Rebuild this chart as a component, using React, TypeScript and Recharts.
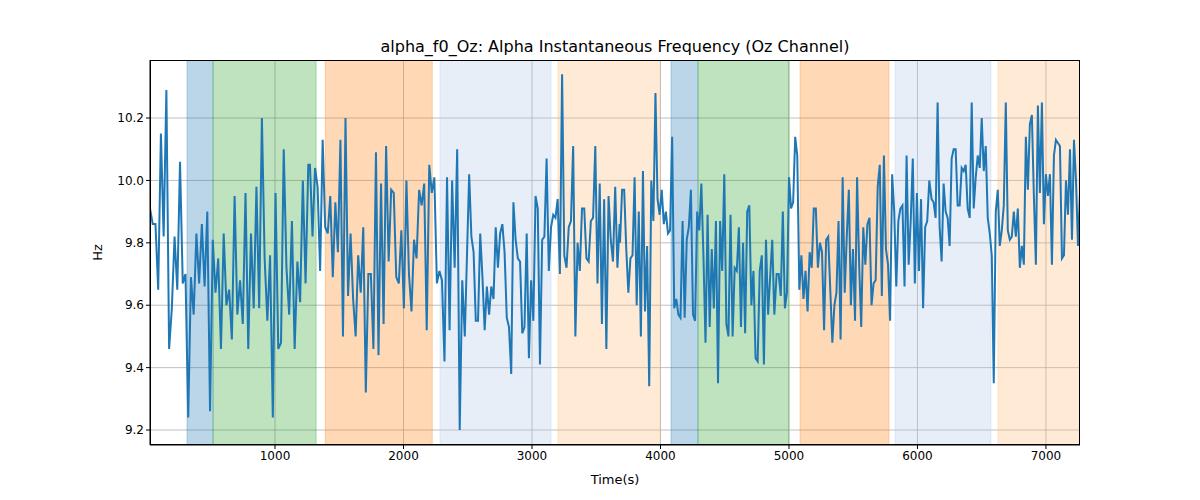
import { LineChart, Line, XAxis, YAxis, CartesianGrid, ReferenceArea } from 'recharts';

// Alpha frequency (Hz) in six stretches of the time axis
const seg1Times = [27, 1259];
const seg1 = [9.91, 9.86, 9.86, 9.65, 10.15, 9.82, 10.29, 9.46, 9.59, 9.82, 9.65, 10.06, 9.67, 9.7, 9.24, 9.69, 9.57, 9.83, 9.67, 9.86, 9.66, 9.9, 9.26, 9.81, 9.64, 9.75, 9.46, 9.83, 9.6, 9.65, 9.49, 9.95, 9.57, 9.68, 9.54, 9.96, 9.46, 9.83, 9.59, 9.98, 9.59, 10.2, 9.75, 9.55, 9.76, 9.24, 9.96, 9.46, 9.48, 10.1, 9.72, 9.57, 9.87, 9.46, 9.74, 9.61, 10.0, 9.67, 10.05];
const seg2Times = [1272, 2477];
const seg2 = [10.05, 9.82, 10.04, 9.98, 9.71, 10.13, 9.85, 9.83, 9.95, 9.69, 9.93, 9.77, 10.13, 9.5, 10.2, 9.63, 9.83, 9.62, 9.5, 9.76, 9.64, 9.85, 9.32, 9.7, 9.7, 9.46, 10.09, 9.44, 9.99, 9.54, 10.11, 9.74, 9.97, 9.96, 9.69, 9.67, 9.84, 9.59, 10.0, 9.7, 9.58, 9.81, 9.75, 9.97, 9.92, 9.99, 9.52, 10.05, 9.96, 10.01, 9.67, 9.71, 9.68, 9.42, 10.01, 9.52, 10.0, 9.72, 10.1, 9.2, 9.68, 9.5];
const seg3Times = [2511, 3682];
const seg3 = [10.02, 9.82, 9.77, 9.55, 9.55, 9.83, 9.69, 9.52, 9.66, 9.57, 9.66, 9.62, 9.85, 9.72, 9.83, 9.86, 9.77, 9.56, 9.53, 9.38, 9.93, 9.81, 9.75, 9.74, 9.51, 9.53, 9.83, 9.43, 9.68, 9.55, 9.95, 9.91, 9.41, 9.81, 9.82, 10.07, 9.71, 9.85, 9.89, 9.88, 9.94, 9.7, 10.34, 9.76, 9.72, 9.85, 9.87, 10.11, 9.5, 9.8, 9.71, 9.91, 9.91, 9.75, 9.74, 9.87, 9.88, 10.11, 9.67, 9.99, 9.54, 9.94, 9.46, 9.95, 9.81, 9.74, 9.98, 9.72, 9.86];
const seg4Times = [3685, 4886];
const seg4 = [9.8, 9.97, 9.97, 9.78, 9.64, 9.75, 9.76, 10.01, 9.6, 9.9, 9.5, 10.03, 9.58, 9.79, 9.34, 10.0, 9.87, 10.28, 9.94, 9.89, 9.97, 9.86, 9.9, 9.83, 9.84, 10.14, 9.59, 9.62, 9.57, 9.56, 9.87, 9.56, 9.81, 9.85, 9.97, 9.57, 9.55, 9.9, 9.84, 9.99, 9.76, 9.48, 9.89, 9.53, 9.78, 9.59, 9.87, 9.35, 9.87, 9.71, 10.02, 9.54, 9.5, 9.89, 9.5, 9.72, 9.71, 9.85, 9.53, 9.8, 9.51, 9.9, 9.92, 9.6, 9.71, 9.43, 9.42, 9.71, 9.76, 9.41, 9.81, 9.57, 9.69, 9.81, 9.57];
const seg5Times = [4904, 6092];
const seg5 = [9.7, 9.7, 9.63, 9.9, 9.59, 9.64, 10.01, 9.91, 9.93, 10.14, 10.08, 9.65, 9.76, 9.62, 9.71, 9.58, 9.77, 9.72, 9.91, 9.91, 9.72, 9.8, 9.77, 9.52, 9.81, 9.82, 9.65, 9.48, 9.6, 9.64, 9.87, 9.49, 10.01, 9.64, 9.82, 9.97, 9.6, 9.78, 9.55, 10.01, 9.73, 9.53, 9.85, 9.73, 9.86, 9.88, 9.6, 9.67, 9.68, 9.98, 10.05, 9.63, 10.08, 9.78, 9.73, 9.55, 10.02, 9.9, 9.66, 9.87, 9.91, 9.92, 9.66, 10.08, 9.73, 9.87, 10.07, 9.67, 9.96, 9.71, 9.94, 9.59, 9.85, 9.87, 10.0];
const seg6Times = [6110, 7265];
const seg6 = [9.94, 9.93, 9.88, 10.25, 9.85, 9.74, 9.99, 9.9, 9.88, 9.79, 10.07, 10.1, 10.1, 9.92, 9.92, 10.04, 10.03, 10.05, 9.91, 9.88, 10.25, 9.91, 10.01, 10.08, 10.04, 10.2, 10.03, 10.11, 9.88, 9.83, 9.76, 9.35, 9.9, 9.97, 9.79, 9.84, 9.92, 10.25, 9.84, 9.81, 9.82, 9.9, 9.82, 9.91, 9.72, 9.79, 9.73, 10.14, 9.97, 10.18, 10.21, 9.95, 9.73, 10.24, 9.96, 10.25, 9.86, 10.02, 9.95, 10.02, 9.73, 10.08, 10.13, 10.12, 10.11, 9.75, 9.76, 10.0, 9.89, 10.1, 9.81, 10.13, 10.0, 9.79, 9.96];

// shaded epochs: [start, end, kind]
const spanStarts = [315, 518, 1391, 2284, 3202, 4082, 4292, 5086, 5825, 6626];
const spanEnds = [518, 1320, 2224, 3148, 3996, 4292, 5000, 5778, 6572, 7265];
const spanKinds = ['blue', 'green', 'orange', 'lightblue', 'peach', 'blue', 'green', 'orange', 'lightblue', 'peach'];

const xTicks = [1000, 2000, 3000, 4000, 5000, 6000, 7000];
const yTicks = [9.2, 9.4, 9.6, 9.8, 10.0, 10.2];

const spanColors: Record<string, [string, number]> = {
  blue: ['#1f77b4', 0.3],
  green: ['#2ca02c', 0.3],
  orange: ['#ff7f0e', 0.3],
  lightblue: ['#aec7e8', 0.3],
  peach: ['#ffbb78', 0.3],
};

const segments: [number[], number[]][] = [
  [seg1Times, seg1], [seg2Times, seg2], [seg3Times, seg3],
  [seg4Times, seg4], [seg5Times, seg5], [seg6Times, seg6],
];

const data: { t: number; hz: number }[] = [];
segments.forEach(([[a, b], vals]) => {
  vals.forEach((v, i) => {
    data.push({ t: a + ((b - a) * i) / (vals.length - 1), hz: v });
  });
});

const font = 'DejaVu Sans, sans-serif';
const tick = { fill: '#000', fontSize: 12, fontFamily: font };

export default function App() {
  return (
    <div style={{ position: 'absolute', left: 0, top: 0, width: 1200, height: 500, background: '#fff', fontFamily: font }}>
      <div style={{ position: 'absolute', top: 37, left: 150, width: 930, textAlign: 'center', fontSize: 16 }}>
        alpha_f0_Oz: Alpha Instantaneous Frequency (Oz Channel)
      </div>
      <div style={{ position: 'absolute', top: 472, left: 150, width: 930, textAlign: 'center', fontSize: 13 }}>Time(s)</div>
      <div style={{ position: 'absolute', top: 245, left: 89, fontSize: 13, transform: 'rotate(-90deg)' }}>Hz</div>
      <LineChart width={1200} height={500} data={data} margin={{ top: 60, right: 120, bottom: 25, left: 100 }}>
        <CartesianGrid stroke="#b0b0b0" strokeWidth={0.8} horizontalValues={yTicks} verticalValues={xTicks} />
        {spanStarts.map((s, i) => (
          <ReferenceArea
            key={i}
            x1={s}
            x2={spanEnds[i]}
            fill={spanColors[spanKinds[i]][0]}
            fillOpacity={spanColors[spanKinds[i]][1]}
            stroke={spanColors[spanKinds[i]][0]}
            strokeOpacity={0.3}
            ifOverflow="hidden"
          />
        ))}
        <XAxis
          dataKey="t"
          type="number"
          domain={[27, 7265]}
          ticks={xTicks}
          tick={tick}
          height={30}
          stroke="#000"
          tickSize={4}
          allowDataOverflow
        />
        <YAxis
          type="number"
          domain={[9.152, 10.386]}
          ticks={yTicks}
          tickFormatter={(v: number) => v.toFixed(1)}
          tick={tick}
          width={50}
          stroke="#000"
          tickSize={4}
          allowDataOverflow
        />
        <Line type="linear" dataKey="hz" stroke="#1f77b4" strokeWidth={2} dot={false} isAnimationActive={false} />
      </LineChart>
      <div style={{ position: 'absolute', left: 150, top: 60, width: 930, height: 385, border: '1px solid #000', boxSizing: 'border-box', pointerEvents: 'none' }} />
    </div>
  );
}
